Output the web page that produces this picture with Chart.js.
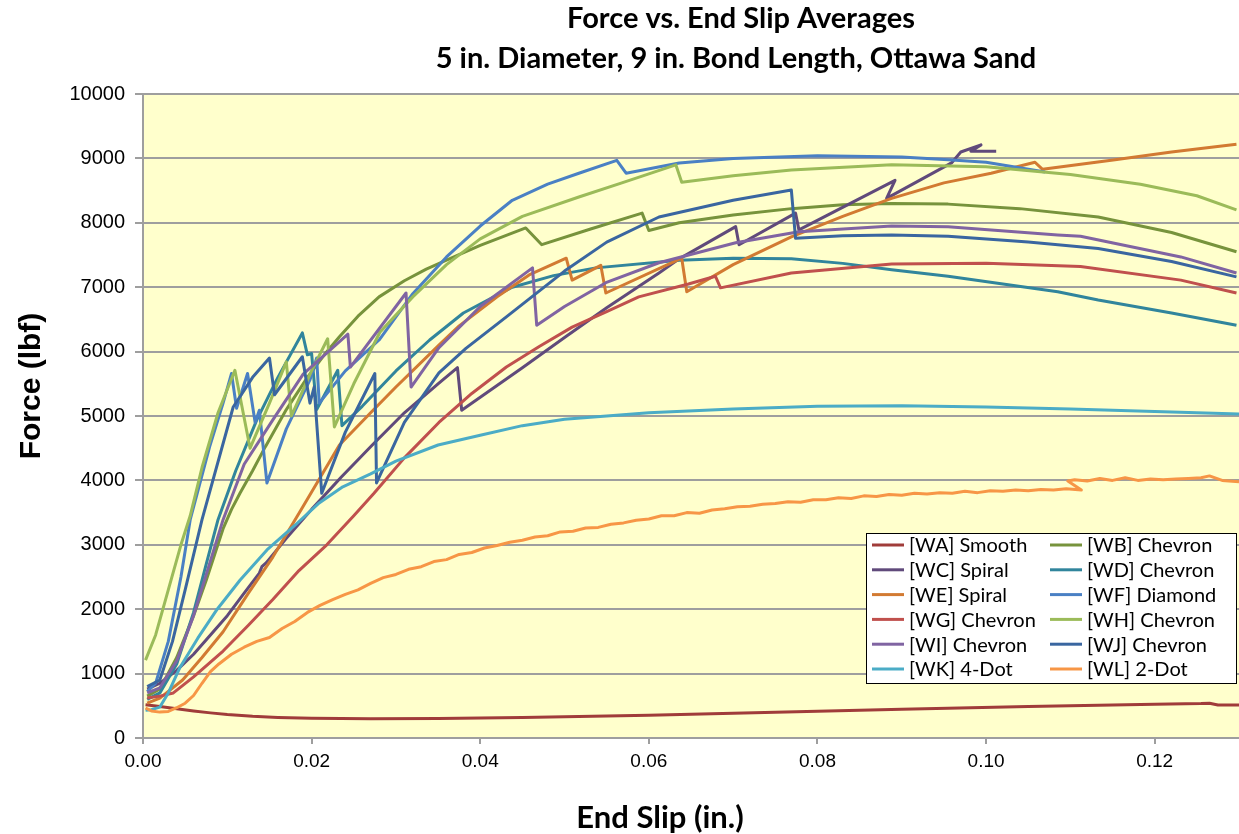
<!DOCTYPE html>
<html lang="en">
<head>
<meta charset="UTF-8">
<title>Force vs. End Slip Averages</title>
<script src="https://cdn.jsdelivr.net/npm/chart.js"></script>
<style>
  html, body { margin: 0; padding: 0; background: #fff; }
</style>
</head>
<body>
<canvas id="slipChart" width="1239" height="834"></canvas>

<script>
// [end slip (in.), force (lbf)] pairs
const WA = [[0.0003,515],[0.002,490],[0.004,455],[0.006,420],[0.008,390],[0.01,365],[0.013,338],[0.016,320],[0.02,305],[0.027,297],[0.035,302],[0.045,318],[0.06,355],[0.075,398],[0.09,445],[0.105,488],[0.12,525],[0.1255,535],[0.1265,540],[0.1275,512],[0.13,512]];
const WB = [[0.0005,650],[0.002,760],[0.004,1250],[0.006,1900],[0.0075,2450],[0.0085,2850],[0.0095,3250],[0.0105,3550],[0.0115,3800],[0.013,4150],[0.0145,4520],[0.017,5100],[0.0195,5600],[0.0215,5950],[0.0233,6230],[0.0255,6550],[0.028,6850],[0.031,7100],[0.0336,7280],[0.036,7420],[0.04,7650],[0.0454,7920],[0.0473,7660],[0.053,7900],[0.0592,8150],[0.06,7880],[0.0636,8000],[0.07,8120],[0.0769,8220],[0.083,8280],[0.0888,8300],[0.0955,8290],[0.104,8220],[0.1133,8090],[0.122,7850],[0.1297,7550]];
const WC = [[0.0005,760],[0.002,850],[0.004,1050],[0.006,1300],[0.008,1600],[0.01,1900],[0.012,2250],[0.0138,2560],[0.0141,2660],[0.0146,2720],[0.017,3100],[0.02,3550],[0.0235,4050],[0.0272,4550],[0.031,5050],[0.0351,5510],[0.0373,5750],[0.0378,5090],[0.045,5750],[0.05,6220],[0.055,6680],[0.0612,7220],[0.0636,7440],[0.0703,7940],[0.0707,7660],[0.0774,8150],[0.0778,7890],[0.0892,8660],[0.0882,8380],[0.0959,8930],[0.097,9100],[0.0994,9210],[0.0982,9110],[0.1012,9110]];
const WD = [[0.0005,600],[0.002,700],[0.004,1150],[0.006,1950],[0.0075,2700],[0.0089,3390],[0.011,4150],[0.0135,4940],[0.016,5600],[0.0189,6290],[0.0195,5950],[0.02,5970],[0.0206,5100],[0.0231,5710],[0.0236,4850],[0.026,5150],[0.03,5700],[0.034,6180],[0.038,6600],[0.0438,7000],[0.0487,7180],[0.0537,7300],[0.0636,7420],[0.07,7450],[0.0769,7440],[0.083,7370],[0.0888,7270],[0.0955,7170],[0.1085,6930],[0.1133,6800],[0.122,6600],[0.1297,6410]];
const WE = [[0.0005,540],[0.002,620],[0.0047,900],[0.007,1250],[0.0095,1650],[0.0125,2250],[0.0154,2810],[0.019,3600],[0.0233,4550],[0.027,5050],[0.03,5450],[0.0351,6100],[0.0375,6400],[0.042,6850],[0.0458,7190],[0.0502,7450],[0.0509,7110],[0.0543,7340],[0.0549,6910],[0.0639,7450],[0.0645,6930],[0.07,7350],[0.0769,7780],[0.083,8100],[0.0888,8380],[0.095,8620],[0.1006,8770],[0.1058,8940],[0.1067,8830],[0.1153,8980],[0.122,9100],[0.1297,9220]];
const WF = [[0.0005,720],[0.0015,850],[0.003,1500],[0.0045,2500],[0.0056,3390],[0.0079,4520],[0.0095,5200],[0.0105,5660],[0.0111,5120],[0.0124,5660],[0.0133,4900],[0.0138,5090],[0.0147,3960],[0.017,4800],[0.0198,5560],[0.0206,5900],[0.0209,5200],[0.024,5700],[0.028,6180],[0.032,6900],[0.036,7470],[0.04,7950],[0.0438,8350],[0.048,8600],[0.0517,8770],[0.0562,8970],[0.0573,8770],[0.0636,8930],[0.07,9000],[0.08,9040],[0.09,9020],[0.0955,8980],[0.1,8940],[0.107,8790]];
const WG = [[0.0005,620],[0.002,650],[0.0036,700],[0.006,950],[0.0095,1350],[0.0125,1750],[0.0154,2150],[0.0185,2600],[0.0218,3000],[0.025,3450],[0.0274,3800],[0.031,4350],[0.0351,4900],[0.039,5350],[0.0431,5760],[0.047,6080],[0.0509,6380],[0.055,6620],[0.0588,6850],[0.0647,7050],[0.0679,7170],[0.0685,6990],[0.0769,7220],[0.0888,7360],[0.1,7370],[0.1112,7320],[0.1231,7110],[0.1297,6910]];
const WH = [[0.0003,1210],[0.0015,1600],[0.003,2300],[0.0045,3000],[0.0056,3450],[0.007,4200],[0.0089,5050],[0.0109,5710],[0.0127,4500],[0.015,5200],[0.017,5840],[0.0176,5000],[0.02,5700],[0.0219,6200],[0.0227,4830],[0.025,5500],[0.0281,6300],[0.032,6850],[0.036,7350],[0.04,7750],[0.045,8100],[0.0517,8400],[0.0568,8620],[0.0632,8900],[0.0639,8630],[0.07,8730],[0.0769,8820],[0.0888,8900],[0.1,8870],[0.11,8750],[0.1183,8600],[0.125,8420],[0.1297,8200]];
const WI = [[0.0005,700],[0.002,780],[0.004,1200],[0.006,1900],[0.008,2750],[0.0095,3390],[0.012,4250],[0.0154,4940],[0.019,5650],[0.0243,6270],[0.0246,5760],[0.0312,6910],[0.0318,5450],[0.0351,6060],[0.04,6700],[0.0462,7300],[0.0467,6410],[0.05,6700],[0.0549,7070],[0.0612,7380],[0.0703,7690],[0.0778,7860],[0.0888,7950],[0.0955,7940],[0.1085,7810],[0.1112,7790],[0.1231,7470],[0.1297,7220]];
const WJ = [[0.0005,800],[0.002,900],[0.0035,1500],[0.005,2300],[0.007,3390],[0.0107,5140],[0.013,5600],[0.015,5900],[0.0156,5330],[0.0189,5920],[0.0198,5200],[0.0203,5450],[0.0212,3800],[0.024,4750],[0.0275,5660],[0.0277,3960],[0.031,4900],[0.0351,5670],[0.0383,6050],[0.0431,6540],[0.05,7250],[0.055,7700],[0.0612,8090],[0.07,8350],[0.0769,8510],[0.0774,7760],[0.083,7800],[0.0888,7810],[0.0955,7790],[0.105,7700],[0.1133,7600],[0.122,7400],[0.1297,7160]];
const WK = [[0.0003,430],[0.001,440],[0.002,480],[0.003,700],[0.0044,1100],[0.0065,1550],[0.0088,2000],[0.0115,2450],[0.0147,2920],[0.018,3300],[0.0209,3650],[0.0237,3900],[0.027,4100],[0.03,4300],[0.035,4550],[0.04,4700],[0.045,4850],[0.05,4950],[0.055,5000],[0.06,5050],[0.07,5110],[0.08,5150],[0.09,5160],[0.1,5140],[0.11,5110],[0.12,5070],[0.13,5030]];
const WL = [[0.0003,466],[0.001,420],[0.002,402],[0.003,412],[0.004,470],[0.005,540],[0.006,660],[0.007,850],[0.008,1030],[0.009,1150],[0.0105,1300],[0.012,1410],[0.0135,1500],[0.015,1560],[0.0165,1700],[0.018,1810],[0.0195,1950],[0.021,2060],[0.0225,2150],[0.024,2230],[0.0255,2300],[0.027,2400],[0.0285,2490],[0.03,2540],[0.0315,2620],[0.033,2660],[0.0345,2740],[0.036,2770],[0.0375,2850],[0.039,2880],[0.0405,2950],[0.042,2990],[0.0435,3040],[0.045,3070],[0.0465,3120],[0.048,3140],[0.0495,3200],[0.051,3210],[0.0525,3260],[0.054,3270],[0.0555,3320],[0.057,3340],[0.0585,3380],[0.06,3400],[0.0615,3450],[0.063,3450],[0.0645,3500],[0.066,3490],[0.0675,3540],[0.069,3560],[0.0705,3590],[0.072,3600],[0.0735,3630],[0.075,3640],[0.0765,3670],[0.078,3660],[0.0795,3700],[0.081,3700],[0.0825,3730],[0.084,3720],[0.0855,3760],[0.087,3750],[0.0885,3780],[0.09,3770],[0.0915,3800],[0.093,3790],[0.0945,3810],[0.096,3800],[0.0975,3830],[0.099,3810],[0.1005,3840],[0.102,3830],[0.1035,3850],[0.105,3840],[0.1065,3860],[0.108,3850],[0.1095,3870],[0.1113,3850],[0.1097,3990],[0.1105,4010],[0.112,3990],[0.1135,4030],[0.115,4000],[0.1165,4040],[0.118,4000],[0.1195,4020],[0.121,4010],[0.1225,4020],[0.124,4030],[0.1255,4040],[0.1265,4070],[0.128,4000],[0.13,3980]];

const seriesData = [WA, WB, WC, WD, WE, WF, WG, WH, WI, WJ, WK, WL];
const seriesLabels = ['[WA] Smooth', '[WB] Chevron', '[WC] Spiral', '[WD] Chevron', '[WE] Spiral', '[WF] Diamond',
                      '[WG] Chevron', '[WH] Chevron', '[WI] Chevron', '[WJ] Chevron', '[WK] 4-Dot', '[WL] 2-Dot'];
const seriesColors = ['#A03C3A', '#77933C', '#604A7B', '#31859C', '#D27A32', '#4A80C4',
                      '#C0504D', '#9BBB59', '#8064A2', '#3A66A0', '#4BACC6', '#F79646'];
const yTicks = [0, 1000, 2000, 3000, 4000, 5000, 6000, 7000, 8000, 9000, 10000];
const xTicks = [0, 0.02, 0.04, 0.06, 0.08, 0.10, 0.12];
const titleLines = ['Force vs. End Slip Averages', '5 in. Diameter, 9 in. Bond Length, Ottawa Sand'];
const xTitle = 'End Slip (in.)';
const yTitle = 'Force (lbf)';

// background, titles and the two-column legend box
const chartDecor = {
    id: 'chartDecor',
    beforeDraw(chart) {
        const { ctx, chartArea: a } = chart;
        ctx.save();
        ctx.fillStyle = '#ffffff';
        ctx.fillRect(0, 0, chart.width, chart.height);
        ctx.fillStyle = '#FFFFCC';
        ctx.fillRect(a.left, a.top, a.right - a.left, a.bottom - a.top);
        ctx.restore();
    },
    afterDraw(chart) {
        const { ctx } = chart;
        ctx.save();
        ctx.fillStyle = '#000';
        ctx.textAlign = 'center';
        ctx.textBaseline = 'middle';
        ctx.font = 'bold 29px Lato';
        ctx.fillText(titleLines[0], 741, 19);
        ctx.fillText(titleLines[1], 736, 59);
        ctx.font = 'bold 31px Lato';
        ctx.fillText(xTitle, 660, 818);
        ctx.save();
        ctx.translate(32, 386);
        ctx.rotate(-Math.PI / 2);
        ctx.font = 'bold 30px "Liberation Sans"';
        ctx.fillText(yTitle, 0, 0);
        ctx.restore();

        // legend
        const bx = 866, by = 533, bw = 370, bh = 150;
        ctx.fillStyle = '#ffffff';
        ctx.fillRect(bx, by, bw, bh);
        ctx.strokeStyle = '#000';
        ctx.lineWidth = 1;
        ctx.strokeRect(bx + 0.5, by + 0.5, bw, bh);
        ctx.font = '20px Lato';
        ctx.textAlign = 'left';
        ctx.lineWidth = 3;
        seriesLabels.forEach((label, i) => {
            const col = i % 2, row = Math.floor(i / 2);
            const y = by + 12 + row * 24.8;
            const x0 = col === 0 ? bx + 6 : bx + 184;
            ctx.strokeStyle = seriesColors[i];
            ctx.beginPath();
            ctx.moveTo(x0, y);
            ctx.lineTo(x0 + 32, y);
            ctx.stroke();
            ctx.fillStyle = '#000';
            ctx.fillText(label, x0 + 37, y + 1);
        });
        ctx.restore();
    }
};

const datasets = seriesData.map((pts, i) => ({
    label: seriesLabels[i],
    data: pts.map(p => ({ x: p[0], y: p[1] })),
    borderColor: seriesColors[i],
    backgroundColor: seriesColors[i],
    borderWidth: 3,
    pointRadius: 0,
    tension: 0,
    fill: false,
    borderJoinStyle: 'round',
    order: seriesData.length - i   // later series sit on top, like the original
}));

const ctx = document.getElementById('slipChart').getContext('2d');
const slipChart = new Chart(ctx, {
    type: 'line',
    data: { datasets: datasets },
    options: {
        responsive: false,
        animation: false,
        layout: { padding: { top: 94, right: 0, bottom: 0, left: 0 } },
        plugins: {
            legend: { display: false },
            tooltip: { enabled: false }
        },
        scales: {
            x: {
                type: 'linear',
                min: 0,
                max: 0.13,
                afterBuildTicks: scale => { scale.ticks = xTicks.map(v => ({ value: v })); },
                afterFit: scale => { scale.height = 96; },
                ticks: {
                    callback: v => v.toFixed(2),
                    color: '#000',
                    font: { family: 'Liberation Sans', size: 19 },
                    padding: 6,
                    maxRotation: 0,
                    autoSkip: false
                },
                grid: { drawOnChartArea: false, tickLength: 6, color: '#9E9E9E', lineWidth: 2 },
                border: { color: '#9E9E9E', width: 2 }
            },
            y: {
                min: 0,
                max: 10000,
                afterBuildTicks: scale => { scale.ticks = yTicks.map(v => ({ value: v })); },
                afterFit: scale => { scale.width = 143; },
                ticks: {
                    callback: v => String(v),
                    color: '#000',
                    font: { family: 'Liberation Sans', size: 20 },
                    padding: 10
                },
                grid: { color: '#9E9E9E', lineWidth: 2, tickLength: 8 },
                border: { color: '#9E9E9E', width: 2 }
            }
        }
    },
    plugins: [chartDecor]
});
</script>
</body>
</html>
